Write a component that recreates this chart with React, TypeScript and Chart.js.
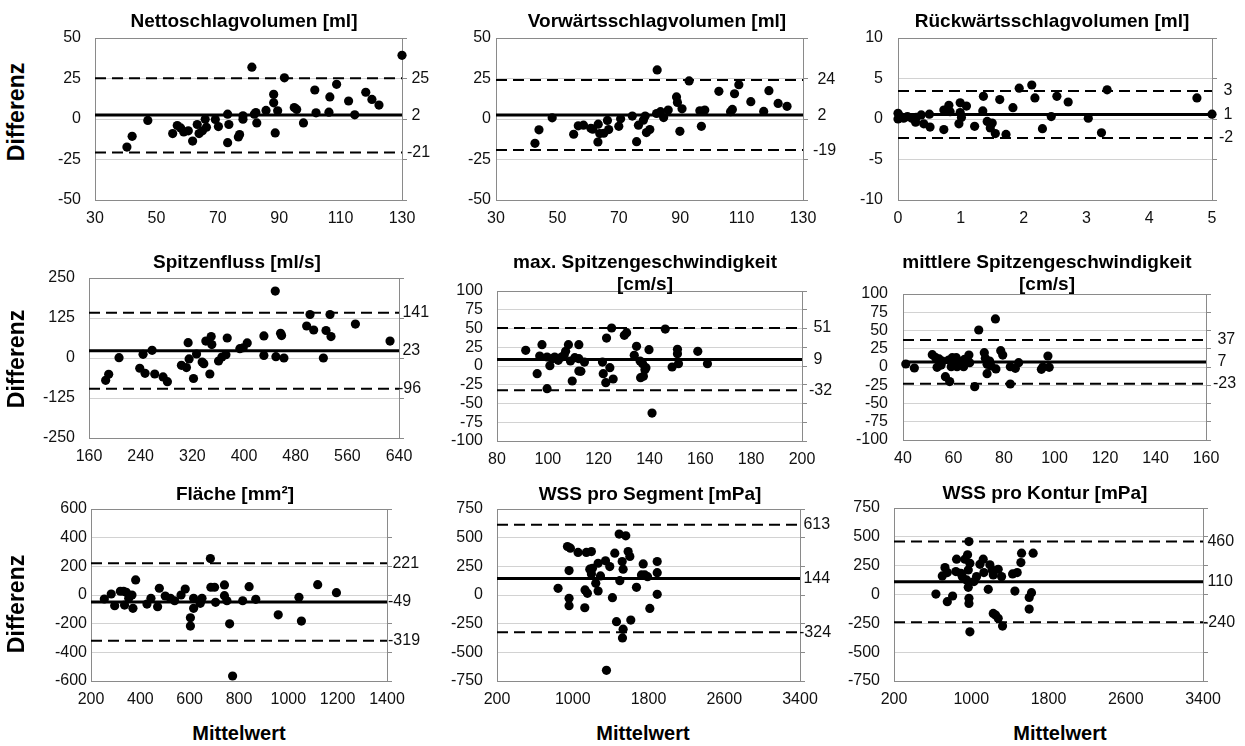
import React, { useEffect, useRef } from 'react';
import { Chart, registerables } from 'chart.js';
Chart.register(...registerables);

const FONT = '"Liberation Sans", Arial, Helvetica, sans-serif';

// ---------- data ----------
const netX = [40.4,42.1,47.2,55.3,56.8,57.9,58.9,60.4,61.8,63.3,63.9,65.0,65.9,66.3,69.2,70.2,73.2,73.6,73.2,76.7,77.1,78.2,78.2,81.1,81.9,82.4,82.7,85.7,88.2,88.2,88.7,89.5,91.7,94.9,95.7,97.9,101.6,102.0,106.2,106.5,108.7,112.6,114.6,118.2,120.2,122.5,130.0];
const netY = [-17.3,-10.7,-0.9,-9.0,-4.0,-5.5,-8.0,-7.3,-13.6,-3.4,-9.0,-7.3,-0.1,-5.1,-0.3,-4.7,3.0,-3.4,-14.6,-11.1,-9.6,2.0,-0.1,32.0,3.0,4.0,-2.4,5.3,15.2,10.0,-8.6,5.1,25.4,7.1,5.9,-2.4,17.9,3.8,4.2,13.6,21.4,11.1,2.6,16.5,12.1,8.6,39.3];
const netLim = [2.4, 25.2, -20.7];

const fwdX = [42.7,44.0,48.3,55.3,56.8,58.5,60.9,61.5,63.3,63.2,63.8,65.1,66.3,66.7,70.0,70.6,74.4,75.8,76.4,78.0,78.6,79.0,80.1,82.3,82.5,83.6,84.6,86.1,88.8,89.1,89.9,90.6,92.9,96.4,96.9,98.0,102.6,106.4,107.0,107.7,109.1,113.0,117.2,118.9,121.9,124.8];
const fwdY = [-15.0,-6.7,0.7,-9.4,-4.2,-3.8,-5.7,-6.3,-3.2,-14.2,-9.0,-8.8,-0.9,-6.5,-4.5,0.1,1.8,-14.0,-3.8,-0.7,1.8,-8.4,-6.5,3.4,30.3,4.5,0.9,5.5,13.6,10.2,-7.6,6.3,23.5,5.1,-4.5,5.5,17.1,4.5,5.9,15.6,21.2,10.7,4.7,17.5,9.6,7.8];
const fwdLim = [2.4, 24.1, -19.2];

const bwdX = [0,0,0.04,0.09,0.15,0.22,0.28,0.29,0.37,0.41,0.50,0.51,0.73,0.73,0.79,0.81,0.83,0.97,0.99,0.99,1.01,1.09,1.22,1.36,1.35,1.42,1.47,1.50,1.55,1.62,1.72,1.83,1.93,2.13,2.18,2.30,2.44,2.53,2.71,3.03,3.24,3.33,4.76,5.0];
const bwdY = [0.7,0.0,0.3,0.1,0.3,0.1,-0.4,0.2,0.5,-0.6,0.6,-1.0,-1.3,1.1,1.1,1.7,0.9,-0.6,2.0,0.8,0.2,1.6,-0.9,2.8,1.0,-0.3,-1.1,-0.5,-1.8,2.4,-1.9,1.4,3.8,4.2,2.6,-1.2,0.3,2.8,2.1,0.1,-1.7,3.6,2.6,0.6];
const bwdLim = [0.55, 3.45, -2.35];

const flowX = [185.8,190.5,206.5,238.6,243.7,246.8,257.7,261.8,274.7,281.4,303.1,310.9,313.5,315.0,321.8,326.5,335.2,337.8,340.9,347.1,349.2,350.2,360.6,365.8,372.0,374.0,393.6,398.8,405.0,430.8,430.8,448.4,449.4,456.6,458.2,461.8,497.0,502.2,507.9,522.9,527.0,533.2,534.7,572.5,626.1];
const flowY = [-69.8,-51,1,-32,11.5,-48,24,-50,-59,-74,-23,-30,48,-3,-64,12.5,-12.5,-17.7,53,-50,67,42,-9.4,3,10.4,62.5,29,32,47,69,8,209,4,77,70,0,100,136,87.5,0,86,136,67,106,53];
const flowLim = [22.7, 141.2, -96.4];

const vmaxX = [91.3,95.8,96.8,97.7,99.7,99.7,100.8,101.8,102.7,104.1,105.4,106.4,107.0,108.1,108.9,109.6,110.6,112.2,112.2,112.2,113.0,114.4,121.5,121.8,122.8,123.1,124.4,125.1,125.7,130.1,131.0,134.0,134.9,136.3,136.5,137.3,137.6,138.2,138.6,139.8,141.0,146.2,148.9,151.0,151.0,151.4,159.0,162.8];
const vmaxY = [20.9,-10.2,13.3,28.4,12,-30.2,0.4,9.8,12,7.6,12,14.2,19.6,28.4,6.7,-20,11.1,28.4,9.8,-6.7,-7.1,5.3,5.3,-10.2,-22.2,37.3,-2.2,50.7,-17.3,40.9,44.4,14.2,26.2,6.7,-15.6,3.1,-13.8,-4.9,-2.2,21.8,-62.7,49.3,-1.3,22.2,16.4,3.1,19.6,3.1];
const vmaxLim = [8.6, 50.8, -32.4];

const vmeanX = [41.1,44.5,51.6,52.8,53.5,54.3,55.1,55.6,56.8,58.5,58.1,59.1,59.5,60.3,61.1,61.4,62.3,64.0,64.4,65.3,66.1,66.4,68.4,70.0,72.2,72.6,73.3,73.3,74.3,74.9,76.6,76.8,78.7,79.5,82.5,82.5,84.5,85.8,94.8,95.4,97.4,97.9];
const vmeanY = [4.1,-1.4,16.9,13.2,-0.5,11,2.7,8.2,-13.2,-20,9.6,0.5,12.8,5.9,12.8,0.5,7.3,0.5,10.5,7.3,16.4,5.9,-26.9,50.7,19.6,11.9,3.7,-9.1,8.2,1.4,65.8,-2.7,22.4,16.4,0.5,-23.3,-1.8,5.9,-3.2,0,15.1,-0.5];
const vmeanLim = [7, 37, -23];

const areaX = [254,282,296,319,332,336,343,353,366,370,381,427,443,470,477,501,522,539,565,582,616,616,603,603,650,643,684,686,701,705,741,741,751,762,774,815,841,868,959,1043,1053,1119,1195];
const areaY = [-28,7,-75,26,26,-70,19,-23,0,-93,105,-63,-23,-82,47,-7,-23,-40,0,42,-23,-93,-159,-217,-23,-58,254,54,54,-51,70,-5,-40,-201,-565,-40,58,-30,-138,-16,-182,72,16];
const areaLim = [-49, 221, -319];

const wssSegX = [845,944,975,961,961,961,1056,1127,1130,1144,1155,1180,1197,1197,1208,1243,1268,1268,1293,1346,1391,1356,1419,1444,1462,1490,1497,1522,1532,1532,1525,1560,1585,1603,1613,1673,1744,1726,1761,1814,1790,1892,1892,1892];
const wssSegY = [58,423,408,213,-29,-93,371,-111,44,371,15,225,379,184,233,102,277,35,166,298,248,-657,-23,365,-233,531,125,292,225,-298,-374,516,379,336,-219,67,271,175,175,-117,160,292,195,6];
const wssSegLim = [144, 613, -324];

const wssKonX = [634,700,728,752,752,807,848,841,893,907,934,952,962,969,969,976,976,976,986,986,1028,1055,1090,1124,1131,1176,1193,1217,1228,1228,1252,1279,1279,1314,1324,1428,1452,1476,1514,1521,1600,1600,1624,1641];
const wssKonY = [4,161,233,190,-62,-13,306,199,184,155,306,126,344,213,62,459,-33,-77,271,-324,112,155,262,306,190,45,257,213,-164,170,-178,219,-207,155,-274,178,30,190,277,358,-126,-25,16,358];
const wssKonLim = [110, 460, -240];

const titles = [
  ['Nettoschlagvolumen [ml]'],
  ['Vorwärtsschlagvolumen [ml]'],
  ['Rückwärtsschlagvolumen [ml]'],
  ['Spitzenfluss [ml/s]'],
  ['max. Spitzengeschwindigkeit', '[cm/s]'],
  ['mittlere Spitzengeschwindigkeit', '[cm/s]'],
  ['Fläche [mm²]'],
  ['WSS pro Segment [mPa]'],
  ['WSS pro Kontur [mPa]'],
];
const yAxisLabel = 'Differenz';
const xAxisLabel = 'Mittelwert';

// ---------- layout / panel config ----------
type Panel = {
  xs: number[]; ys: number[]; lim: number[];
  x: [number, number, number]; y: [number, number, number];
  box: [number, number, number, number];
  lp: number; rp: number;
  tc: [number, number];
};

const panels: Panel[] = [
  { xs: netX, ys: netY, lim: netLim, x: [30, 130, 20], y: [-50, 50, 25], box: [95, 38, 402, 200], lp: 14, rp: 0, tc: [244, 21] },
  { xs: fwdX, ys: fwdY, lim: fwdLim, x: [30, 130, 20], y: [-50, 50, 25], box: [496, 38, 803, 200], lp: 5, rp: 5, tc: [657, 21] },
  { xs: bwdX, ys: bwdY, lim: bwdLim, x: [0, 5, 1], y: [-10, 10, 5], box: [898, 38, 1212, 200], lp: 15, rp: 2, tc: [1052, 21] },
  { xs: flowX, ys: flowY, lim: flowLim, x: [160, 640, 80], y: [-250, 250, 125], box: [89, 278, 399, 438], lp: 14, rp: -6, tc: [237, 262] },
  { xs: vmaxX, ys: vmaxY, lim: vmaxLim, x: [80, 200, 20], y: [-100, 100, 25], box: [497, 291, 802, 441], lp: 14, rp: 2, tc: [645, 262] },
  { xs: vmeanX, ys: vmeanY, lim: vmeanLim, x: [40, 160, 20], y: [-100, 100, 25], box: [903, 294, 1206, 440], lp: 15, rp: 2, tc: [1047, 262] },
  { xs: areaX, ys: areaY, lim: areaLim, x: [200, 1400, 200], y: [-600, 600, 200], box: [91, 509, 387, 681], lp: 4, rp: -4, tc: [235, 494] },
  { xs: wssSegX, ys: wssSegY, lim: wssSegLim, x: [200, 3400, 800], y: [-750, 750, 250], box: [497, 509, 800, 681], lp: 14, rp: -6, tc: [650, 494] },
  { xs: wssKonX, ys: wssKonY, lim: wssKonLim, x: [200, 3400, 800], y: [-750, 750, 250], box: [894, 508, 1203, 681], lp: 14, rp: -5, tc: [1045, 493] },
];

const AXIS_GRAY = '#8a8a8a';
const GRID_GRAY = '#d2d2d2';
const TICK_FONT = { family: FONT, size: 16 };
const LEFT_W = 60, RIGHT_W = 50, BOTTOM_H = 30, TOP_PAD = 12;
const plain = (v: any) => String(Math.round(Number(v) * 1000) / 1000);

function PanelChart({ p }: { p: Panel }) {
  const ref = useRef<HTMLCanvasElement | null>(null);
  useEffect(() => {
    if (!ref.current) return;
    const [xMin, xMax, xStep] = p.x;
    const [yMin, yMax, yStep] = p.y;
    const gridVals: number[] = [];
    for (let v = yMin; v <= yMax + 1e-9; v += yStep) gridVals.push(v);
    const [mean, upper, lower] = p.lim;
    const limSet = [mean, upper, lower];
    const fmt = (v: number) => {
      const r = Math.round(v);
      return r >= 0 ? ' ' + r : String(r);
    };
    const chart = new Chart(ref.current, {
      type: 'scatter',
      data: {
        datasets: [
          {
            data: p.xs.map((x, i) => ({ x, y: p.ys[i] })),
            pointRadius: 4.6,
            pointHoverRadius: 4.6,
            backgroundColor: '#000',
            borderWidth: 0,
            clip: false,
          } as any,
          {
            type: 'line',
            data: [{ x: xMin, y: mean }, { x: xMax, y: mean }],
            borderColor: '#000',
            borderWidth: 3,
            pointRadius: 0,
            fill: false,
          } as any,
          {
            type: 'line',
            data: [{ x: xMin, y: upper }, { x: xMax, y: upper }],
            borderColor: '#000',
            borderWidth: 2,
            borderDash: [11, 6],
            pointRadius: 0,
            fill: false,
          } as any,
          {
            type: 'line',
            data: [{ x: xMin, y: lower }, { x: xMax, y: lower }],
            borderColor: '#000',
            borderWidth: 2,
            borderDash: [11, 6],
            pointRadius: 0,
            fill: false,
          } as any,
        ],
      },
      options: {
        responsive: true,
        maintainAspectRatio: false,
        animation: false,
        events: [],
        layout: { padding: { top: TOP_PAD, left: 0, right: 0, bottom: 0 } },
        plugins: { legend: { display: false }, tooltip: { enabled: false }, title: { display: false } },
        scales: {
          x: {
            type: 'linear',
            position: 'bottom',
            min: xMin,
            max: xMax,
            ticks: { stepSize: xStep, font: TICK_FONT, color: '#111', padding: 9, maxRotation: 0, autoSkip: false, callback: plain },
            grid: { color: 'rgba(0,0,0,0)', drawTicks: false },
            border: { color: AXIS_GRAY, width: 1 },
            afterFit: (s: any) => { s.height = BOTTOM_H; s.paddingLeft = 0; s.paddingRight = 0; },
          },
          y: {
            type: 'linear',
            position: 'left',
            min: yMin,
            max: yMax,
            ticks: { stepSize: yStep, font: TICK_FONT, color: '#111', padding: p.lp, autoSkip: false, callback: plain },
            grid: {
              color: (ctx: any) => (ctx.tick && ctx.tick.value === yMax ? AXIS_GRAY : GRID_GRAY),
              drawTicks: false,
            },
            border: { color: AXIS_GRAY, width: 1 },
            afterFit: (s: any) => { s.width = LEFT_W; s.paddingTop = 0; s.paddingBottom = 0; },
          },
          y2: {
            type: 'linear',
            position: 'right',
            min: yMin,
            max: yMax,
            afterBuildTicks: (s: any) => {
              s.ticks = [...gridVals, ...limSet].map((v) => ({ value: v }));
            },
            ticks: {
              font: TICK_FONT,
              color: '#111',
              padding: p.rp,
              autoSkip: false,
              callback: (v: any) => (limSet.includes(v) ? fmt(v) : ''),
            },
            grid: {
              drawOnChartArea: false,
              drawTicks: true,
              tickLength: 5,
              tickColor: (ctx: any) => (ctx.tick && limSet.includes(ctx.tick.value) ? 'rgba(0,0,0,0)' : AXIS_GRAY),
            },
            border: { color: AXIS_GRAY, width: 1 },
            afterFit: (s: any) => { s.width = RIGHT_W; s.paddingTop = 0; s.paddingBottom = 0; },
          },
        },
      } as any,
    });
    return () => chart.destroy();
  }, [p]);

  const [L, T, R, B] = p.box;
  return (
    <div
      style={{
        position: 'absolute',
        left: L - LEFT_W,
        top: T - TOP_PAD,
        width: R - L + LEFT_W + RIGHT_W,
        height: B - T + TOP_PAD + BOTTOM_H,
      }}
    >
      <canvas ref={ref} style={{ display: 'block' }} />
    </div>
  );
}

export default function App() {
  const diffY = [112, 359, 604];
  const mittelX = [239, 643, 1060];
  return (
    <div
      style={{
        position: 'absolute',
        left: 0,
        top: 0,
        width: 1245,
        height: 746,
        background: '#fff',
        fontFamily: FONT,
        color: '#000',
        overflow: 'hidden',
      }}
    >
      {panels.map((p, i) => (
        <PanelChart key={i} p={p} />
      ))}
      {panels.map((p, i) => {
        const lines = titles[i];
        const lh = 22;
        return (
          <div
            key={'t' + i}
            style={{
              position: 'absolute',
              left: p.tc[0] - 200,
              width: 400,
              top: p.tc[1] - lh / 2,
              textAlign: 'center',
              fontWeight: 'bold',
              fontSize: 19,
              lineHeight: lh + 'px',
              whiteSpace: 'nowrap',
            }}
          >
            {lines.map((l, k) => (
              <div key={k}>{l}</div>
            ))}
          </div>
        );
      })}
      {diffY.map((cy, i) => (
        <div
          key={'d' + i}
          style={{
            position: 'absolute',
            left: 16 - 80,
            top: cy - 14,
            width: 160,
            height: 28,
            lineHeight: '28px',
            textAlign: 'center',
            fontWeight: 'bold',
            fontSize: 23,
            transform: 'rotate(-90deg)',
            transformOrigin: '50% 50%',
          }}
        >
          {yAxisLabel}
        </div>
      ))}
      {mittelX.map((cx, i) => (
        <div
          key={'m' + i}
          style={{
            position: 'absolute',
            left: cx - 100,
            top: 733 - 12,
            width: 200,
            height: 24,
            lineHeight: '24px',
            textAlign: 'center',
            fontWeight: 'bold',
            fontSize: 20,
          }}
        >
          {xAxisLabel}
        </div>
      ))}
    </div>
  );
}
